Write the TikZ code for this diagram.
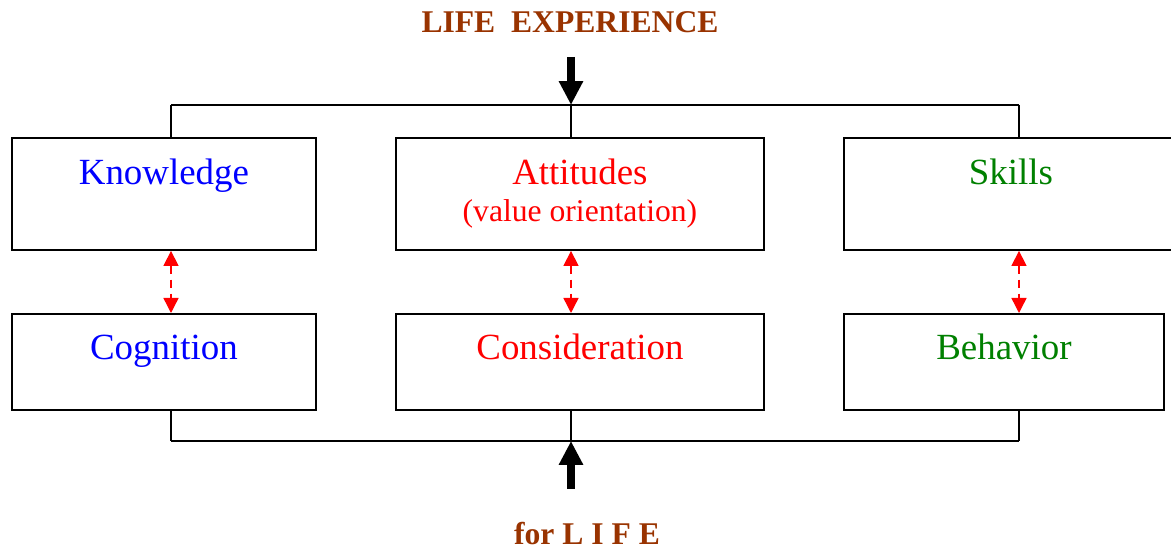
\documentclass[tikz,border=0pt]{standalone}
\usepackage{fontspec}
\setmainfont{Liberation Serif}
\usetikzlibrary{arrows.meta}

\definecolor{lifebrown}{RGB}{153,51,0}
\definecolor{skillgreen}{RGB}{0,128,0}

\tikzset{
  box/.style={draw, line width=1.1pt, inner sep=0pt, anchor=north west},
  word/.style={anchor=base, font=\fontsize{21}{25}\selectfont},
  small/.style={anchor=base, font=\fontsize{18}{22}\selectfont},
  head/.style={anchor=base, font=\fontsize{18}{22}\selectfont\bfseries, text=lifebrown},
  bus/.style={line width=0.7pt},
  feed/.style={line width=4.5pt, -{Triangle[width=0.46cm,length=0.48cm]}},
  link/.style={red, line width=0.8pt, dash pattern=on 5pt off 3pt,
    {Triangle[width=0.3cm,length=0.3cm]}-{Triangle[width=0.3cm,length=0.3cm]}}
}

\begin{document}
\begin{tikzpicture}[x=0.02cm, y=-0.02cm]
\useasboundingbox (0,0) rectangle (1171,550);

% upper row of boxes
\node[box, minimum width=6.08cm, minimum height=2.24cm] (know) at (11,137) {};
\node[box, minimum width=7.36cm, minimum height=2.24cm] (atti) at (395,137) {};
\node[box, minimum width=6.68cm, minimum height=2.24cm] (skil) at (843,137) {};
% lower row of boxes
\node[box, minimum width=6.08cm, minimum height=1.92cm] (cogn) at (11,313) {};
\node[box, minimum width=7.36cm, minimum height=1.92cm] (cons) at (395,313) {};
\node[box, minimum width=6.40cm, minimum height=1.92cm] (beha) at (843,313) {};

% box texts
\node[word, text=blue] (knowt) at ([yshift=-0.96cm]know.north) {Knowledge};
\node[word, text=red] (attit) at ([yshift=-0.96cm]atti.north) {Attitudes};
\node[small, text=red] (valt) at ([yshift=-1.7cm]atti.north) {(value orientation)};
\node[word, text=skillgreen] (skilt) at ([yshift=-0.96cm]skil.north) {Skills};
\node[word, text=blue] (cognt) at ([yshift=-0.94cm]cogn.north) {Cognition};
\node[word, text=red] (const) at ([yshift=-0.94cm]cons.north) {Consideration};
\node[word, text=skillgreen] (behat) at ([yshift=-0.94cm]beha.north) {Behavior};

% headings
\node[head] (title) at (570,33) {LIFE~~EXPERIENCE};
\node[head] (goal) at (587,545) {for L I F E};

% top and bottom bus lines
\coordinate (tl) at (171,105);
\coordinate (tm) at (571,105);
\coordinate (tr) at (1019,105);
\coordinate (bl) at (171,441);
\coordinate (bm) at (571,441);
\coordinate (br) at (1019,441);
\draw[bus] (tl) -- (tr);
\draw[bus, line width=1.2pt] (bl) -- (br);
\foreach \c/\n in {tl/know, tm/atti, tr/skil}
  \draw[bus] (\c) -- (\c |- \n.north);
\foreach \c/\n in {bl/cogn, bm/cons, br/beha}
  \draw[bus] (\c) -- (\c |- \n.south);

% thick arrows in and out
\coordinate (src) at (571,57);
\coordinate (snk) at (571,489);
\draw[feed] (src) -- (tm);
\draw[feed] (snk) -- (bm);

% dashed links between the rows
\draw[link] (know.south -| tl) -- (cogn.north -| tl);
\draw[link] (atti.south -| tm) -- (cons.north -| tm);
\draw[link] (skil.south -| tr) -- (beha.north -| tr);

\end{tikzpicture}
\end{document}
